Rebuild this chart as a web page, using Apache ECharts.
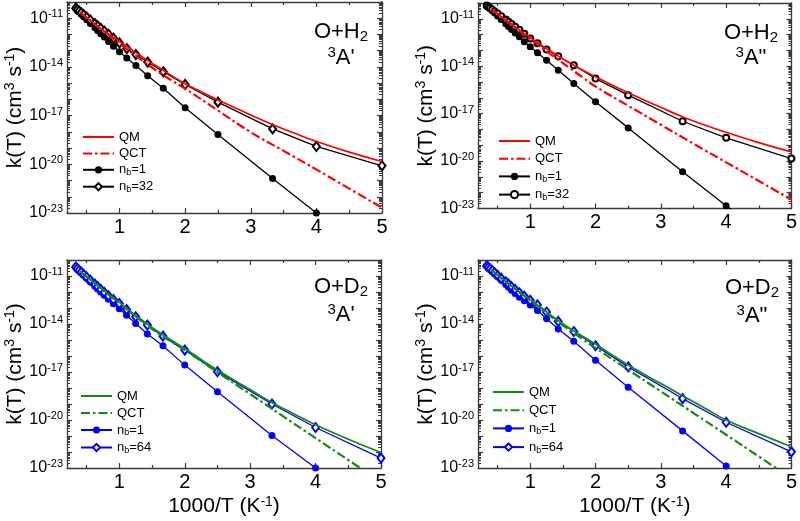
<!DOCTYPE html>
<html><head><meta charset="utf-8">
<script src="https://cdn.jsdelivr.net/npm/echarts@6/dist/echarts.min.js"></script>
<style>html,body{margin:0;padding:0;background:#fff}#c{width:800px;height:521px}</style>
</head><body><div id="c"></div>
<script>
// x = 1000/T (K^-1) for the n_b curves
const xPts = [0.333,0.357,0.385,0.417,0.455,0.5,0.556,0.625,0.667,0.714,0.769,0.833,0.909,1.0,1.111,1.25,1.429,1.667,2.0,2.5,3.333,4.0,5.0];
const xQM  = [0.4,0.5,0.6,0.7,0.8,0.9,1.0,1.2,1.4,1.6,1.8,2.0,2.25,2.5,2.75,3.0,3.33,3.67,4.0,4.5,5.0];
const xQCT = [0.4,0.5,0.6,0.7,0.8,0.9,1.0,1.2,1.4,1.6,1.8,2.0,2.5,3.0,3.5,4.0,4.5,5.0];

// log10 k(T) values, cm^3 s^-1
// O+H2 3A'
const h2A1_QM  = [-10.62,-10.95,-11.27,-11.58,-11.88,-12.16,-12.43,-12.98,-13.52,-14.04,-14.55,-15.03,-15.55,-16.03,-16.5,-16.96,-17.55,-18.09,-18.59,-19.25,-19.83];
const h2A1_QCT = [-10.62,-10.96,-11.29,-11.62,-11.94,-12.25,-12.56,-13.17,-13.76,-14.33,-14.85,-15.34,-16.68,-18.02,-19.17,-20.32,-21.5,-22.67];
const h2A1_nb1 = [-10.40,-10.50,-10.62,-10.75,-10.91,-11.09,-11.32,-11.59,-11.76,-11.95,-12.16,-12.43,-12.73,-13.07,-13.45,-13.91,-14.54,-15.32,-16.52,-18.17,-20.88,-23.0,-26.2];
const h2A1_nb32 = [-10.38,-10.46,-10.55,-10.66,-10.78,-10.93,-11.11,-11.33,-11.47,-11.62,-11.79,-11.99,-12.23,-12.52,-12.87,-13.24,-13.70,-14.30,-15.08,-16.17,-17.82,-18.90,-20.09];
// O+H2 3A''
const h2A2_QM  = [-10.38,-10.69,-10.99,-11.29,-11.59,-11.89,-12.18,-12.75,-13.28,-13.78,-14.24,-14.67,-15.19,-15.68,-16.15,-16.6,-17.2,-17.72,-18.18,-18.83,-19.42];
const h2A2_QCT = [-10.38,-10.7,-11.02,-11.34,-11.66,-11.97,-12.28,-12.9,-13.5,-14.1,-14.7,-15.28,-16.5,-17.7,-18.9,-20.08,-21.26,-22.44];
const h2A2_nb1 = [-10.16,-10.25,-10.36,-10.49,-10.64,-10.82,-11.04,-11.31,-11.48,-11.67,-11.89,-12.14,-12.45,-12.77,-13.15,-13.62,-14.25,-15.09,-16.25,-17.90,-20.68,-22.82,-26.0];
const h2A2_nb32 = [-10.16,-10.23,-10.31,-10.41,-10.53,-10.67,-10.84,-11.05,-11.18,-11.33,-11.50,-11.70,-11.95,-12.25,-12.55,-12.94,-13.37,-13.94,-14.78,-15.83,-17.48,-18.53,-19.84];
// O+D2 3A'
const d2A1_QM  = [-10.72,-11.03,-11.36,-11.7,-12.03,-12.35,-12.65,-13.3,-13.92,-14.5,-15.03,-15.53,-16.22,-16.88,-17.5,-18.1,-18.91,-19.62,-20.3,-21.2,-22.03];
const d2A1_QCT = [-10.72,-11.05,-11.38,-11.71,-12.05,-12.38,-12.7,-13.36,-14.0,-14.6,-15.12,-15.63,-17.02,-18.38,-19.76,-21.13,-22.5,-23.88];
const d2A1_nb1 = [-10.44,-10.55,-10.67,-10.80,-10.96,-11.14,-11.37,-11.64,-11.81,-12.0,-12.21,-12.45,-12.74,-13.04,-13.45,-13.97,-14.63,-15.36,-16.57,-18.23,-20.97,-23.0,-26.3];
const d2A1_nb64 = [-10.44,-10.53,-10.64,-10.76,-10.90,-11.06,-11.26,-11.51,-11.66,-11.83,-12.02,-12.24,-12.47,-12.72,-13.1,-13.55,-14.07,-14.76,-15.63,-16.98,-19.0,-20.47,-22.38];
// O+D2 3A''
const d2A2_QM  = [-10.62,-10.93,-11.25,-11.57,-11.88,-12.18,-12.47,-13.08,-13.7,-14.25,-14.77,-15.25,-15.92,-16.56,-17.15,-17.72,-18.48,-19.25,-20.0,-20.85,-21.67];
const d2A2_QCT = [-10.62,-10.95,-11.28,-11.6,-11.92,-12.23,-12.53,-13.17,-13.8,-14.38,-14.95,-15.5,-16.86,-18.21,-19.57,-20.92,-22.28,-23.63];
const d2A2_nb1 = [-10.37,-10.47,-10.58,-10.71,-10.86,-11.04,-11.26,-11.53,-11.70,-11.89,-12.10,-12.33,-12.55,-12.82,-13.15,-13.67,-14.31,-15.08,-16.26,-17.95,-20.68,-22.87,-26.1];
const d2A2_nb64 = [-10.37,-10.45,-10.55,-10.66,-10.80,-10.96,-11.15,-11.37,-11.51,-11.67,-11.85,-12.05,-12.27,-12.52,-12.81,-13.25,-13.84,-14.47,-15.36,-16.68,-18.66,-20.14,-21.99];

const xTickLabels = [1,2,3,4,5];
const xMinorTicks = [0.5,1.5,2.5,3.5,4.5];
const yLabelExps = [-23,-20,-17,-14,-11];
const yMinExp = -23, yMaxExp = -10;

const FONT = 'Liberation Sans, Arial, sans-serif';
const AX = '#3a3a3a';

const panels = [
  {grid:{left:67,top:2,width:315,height:211}, qm:h2A1_QM, qct:h2A1_QCT, nb1:h2A1_nb1, nbN:h2A1_nb32, nbTxt:'32',
   cRef:'#ff0000', cNb:'#000000', nbSym:'emptyDiamond', nbSize:[7,9], mol:'H', st:"A'", lab:{x:341,y1:32,y2:58},
   leg:{left:82,top:130,pitch:16.4}, xName:false},
  {grid:{left:478,top:3,width:315,height:205.5}, qm:h2A2_QM, qct:h2A2_QCT, nb1:h2A2_nb1, nbN:h2A2_nb32, nbTxt:'32',
   cRef:'#ff0000', cNb:'#000000', nbSym:'emptyCircle', nbSize:6, mol:'H', st:'A"', lab:{x:751,y1:33,y2:58},
   leg:{left:498,top:134,pitch:17.7}, xName:false},
  {grid:{left:67,top:260,width:314,height:208}, qm:d2A1_QM, qct:d2A1_QCT, nb1:d2A1_nb1, nbN:d2A1_nb64, nbTxt:'64',
   cRef:'#138a13', cNb:'#0000ff', nbSym:'emptyDiamond', nbSize:[7,9], mol:'D', st:"A'", lab:{x:341,y1:287,y2:315},
   leg:{left:80,top:389,pitch:17}, xName:true},
  {grid:{left:478,top:260,width:315,height:208}, qm:d2A2_QM, qct:d2A2_QCT, nb1:d2A2_nb1, nbN:d2A2_nb64, nbTxt:'64',
   cRef:'#138a13', cNb:'#0000ff', nbSym:'emptyDiamond', nbSize:[7,9], mol:'D', st:'A"', lab:{x:752,y1:288,y2:316},
   leg:{left:492,top:385,pitch:18.2}, xName:true}
];

const decadeTicks = [];
for (let e = yMinExp + 1; e < yMaxExp; e++) decadeTicks.push(Math.pow(10, e));
const minorLogTicks = [];
for (let e = yMinExp; e < yMaxExp; e++) for (let m = 2; m <= 9; m++) minorLogTicks.push(m * Math.pow(10, e));

const grids = [], xAxes = [], yAxes = [], series = [], legends = [], graphics = [];
const legendText = {};

panels.forEach((p, i) => {
  grids.push(Object.assign({containLabel:false}, p.grid));
  const xBase = {type:'value', gridIndex:i, min:0.2, max:5, splitLine:{show:false}};
  const xi = xAxes.length;
  xAxes.push(Object.assign({}, xBase, {
    position:'bottom',
    axisLine:{show:true, onZero:false, lineStyle:{color:AX, width:1.3}},
    axisTick:{show:true, inside:true, length:5, customValues:xTickLabels, lineStyle:{color:AX, width:1.2}},
    axisLabel:{show:true, customValues:xTickLabels, fontSize:20, color:'#000', fontFamily:FONT, margin:4},
    name: p.xName ? '1000/T (K{sup|-1})' : '',
    nameLocation:'middle', nameGap:27,
    nameTextStyle:{fontSize:21, color:'#000', fontFamily:FONT, rich:{sup:{fontSize:14, fontFamily:FONT, color:'#000', padding:[0,0,9,0]}}}
  }));
  xAxes.push(Object.assign({}, xBase, {position:'bottom', axisLine:{show:false, onZero:false},
    axisTick:{show:true, inside:true, length:3, customValues:xMinorTicks, lineStyle:{color:AX, width:1.2}}, axisLabel:{show:false}}));
  xAxes.push(Object.assign({}, xBase, {position:'top', axisLine:{show:true, onZero:false, lineStyle:{color:AX, width:1.3}},
    axisTick:{show:true, inside:true, length:5, customValues:xTickLabels, lineStyle:{color:AX, width:1.2}}, axisLabel:{show:false}}));
  xAxes.push(Object.assign({}, xBase, {position:'top', axisLine:{show:false, onZero:false},
    axisTick:{show:true, inside:true, length:3, customValues:xMinorTicks, lineStyle:{color:AX, width:1.2}}, axisLabel:{show:false}}));

  const yBase = {type:'log', logBase:10, gridIndex:i, min:Math.pow(10,yMinExp), max:Math.pow(10,yMaxExp), splitLine:{show:false}};
  const yi = yAxes.length;
  yAxes.push(Object.assign({}, yBase, {
    position:'left',
    axisLine:{show:true, onZero:false, lineStyle:{color:AX, width:1.3}},
    axisTick:{show:true, inside:true, length:5, customValues:decadeTicks, lineStyle:{color:AX, width:1.2}},
    axisLabel:{show:true, customValues:yLabelExps.map(e => Math.pow(10, e) * 1.000001), margin:4,
      formatter: v => { const e = (v > 0 && v < 1) ? Math.round(Math.log10(v)) : Math.round(v); return '{b|10}{s|' + e + '}'; },
      rich:{b:{fontSize:16, fontFamily:FONT, color:'#000'}, s:{fontSize:11, fontFamily:FONT, color:'#000', padding:[0,0,8,0]}}},
    name:'k(T) (cm{sup|3} s{sup|-1})', nameLocation:'middle', nameGap:40,
    nameTextStyle:{fontSize:21, color:'#000', fontFamily:FONT, rich:{sup:{fontSize:14, fontFamily:FONT, color:'#000', padding:[0,0,9,0]}}}
  }));
  yAxes.push(Object.assign({}, yBase, {position:'left', axisLine:{show:false, onZero:false},
    axisTick:{show:true, inside:true, length:3, customValues:minorLogTicks, lineStyle:{color:AX, width:1}}, axisLabel:{show:false}}));
  yAxes.push(Object.assign({}, yBase, {position:'right', axisLine:{show:true, onZero:false, lineStyle:{color:AX, width:1.3}},
    axisTick:{show:true, inside:true, length:5, customValues:decadeTicks, lineStyle:{color:AX, width:1.2}}, axisLabel:{show:false}}));
  yAxes.push(Object.assign({}, yBase, {position:'right', axisLine:{show:false, onZero:false},
    axisTick:{show:true, inside:true, length:3, customValues:minorLogTicks, lineStyle:{color:AX, width:1}}, axisLabel:{show:false}}));

  const toData = (xs, ys) => xs.map((x, j) => [x, Math.pow(10, ys[j])]);
  const nQM = 'p' + i + '_QM', nQCT = 'p' + i + '_QCT', nN1 = 'p' + i + '_nb1', nNN = 'p' + i + '_nbN';
  legendText[nQM] = 'QM'; legendText[nQCT] = 'QCT';
  legendText[nN1] = '{a|n}{b|b}{a|=1}'; legendText[nNN] = '{a|n}{b|b}{a|=' + p.nbTxt + '}';
  const common = {type:'line', xAxisIndex:xi, yAxisIndex:yi, clip:true, animation:false, showAllSymbol:true};
  series.push(Object.assign({}, common, {name:nQM, z:4, data:toData(xQM, p.qm), smooth:true, showSymbol:false, symbol:'none',
    lineStyle:{color:p.cRef, width:1.7}, itemStyle:{color:p.cRef}}));
  series.push(Object.assign({}, common, {name:nQCT, z:4, data:toData(xQCT, p.qct), smooth:true, showSymbol:false, symbol:'none',
    lineStyle:{color:p.cRef, width:2.2, type:[9,3,2.5,3]}, itemStyle:{color:p.cRef}}));
  series.push(Object.assign({}, common, {name:nN1, data:toData(xPts, p.nb1), symbol:'circle', symbolSize:7,
    lineStyle:{color:p.cNb, width:1.3}, itemStyle:{color:p.cNb}}));
  series.push(Object.assign({}, common, {name:nNN, data:toData(xPts, p.nbN), symbol:p.nbSym, symbolSize:p.nbSize,
    lineStyle:{color:p.cNb, width:1.3}, itemStyle:{color:p.cNb, borderWidth:1.1}}));

  legends.push({
    data:[{name:nQM, itemStyle:{opacity:0}}, {name:nQCT, itemStyle:{opacity:0}}, nN1, nNN],
    orient:'vertical', left:p.leg.left, top:p.leg.top,
    itemWidth:31, itemHeight:9, itemGap:p.leg.pitch - 14, selectedMode:false, padding:0,
    formatter: n => legendText[n],
    textStyle:{fontSize:13, color:'#000', fontFamily:FONT, height:14, lineHeight:14,
      rich:{a:{fontSize:13, fontFamily:FONT, color:'#000'}, b:{fontSize:9, fontFamily:FONT, color:'#000', padding:[6,0,0,0]}}}
  });

  graphics.push({type:'text', x:p.lab.x, y:p.lab.y1, silent:true, style:{
    text:'O+' + p.mol + '{sub|2}', font:'22px ' + FONT, fill:'#000', align:'center', verticalAlign:'middle',
    rich:{sub:{fontSize:15, fontFamily:FONT, fill:'#000', padding:[10,0,0,0]}}}});
  graphics.push({type:'text', x:p.lab.x, y:p.lab.y2, silent:true, style:{
    text:'{sup|3}' + p.st, font:'22px ' + FONT, fill:'#000', align:'center', verticalAlign:'middle',
    rich:{sup:{fontSize:15, fontFamily:FONT, fill:'#000', padding:[0,0,10,0]}}}});
});

const chart = echarts.init(document.getElementById('c'), null, {renderer:'canvas'});
chart.setOption({
  animation:false,
  backgroundColor:'#fff',
  textStyle:{fontFamily:FONT},
  grid:grids, xAxis:xAxes, yAxis:yAxes, series:series, legend:legends, graphic:graphics
});
</script>
</body></html>
